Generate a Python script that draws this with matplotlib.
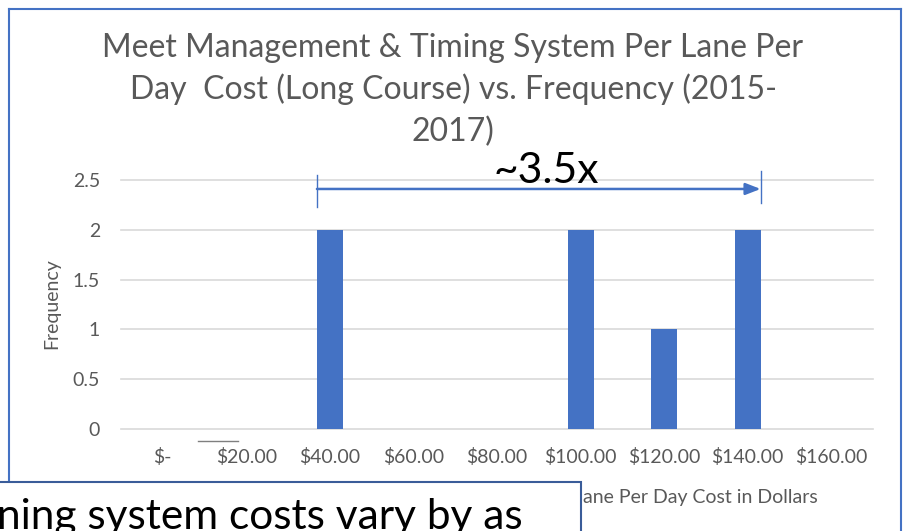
import matplotlib
matplotlib.use('Agg')
import matplotlib.pyplot as plt
from matplotlib.lines import Line2D
from matplotlib.patches import Rectangle

plt.rcParams['font.family'] = ['Lato', 'DejaVu Sans']

# data
categories = ['$-', '$20.00', '$40.00', '$60.00', '$80.00', '$100.00', '$120.00', '$140.00', '$160.00']
frequency = [0, 0, 2, 0, 0, 2, 1, 2, 0]
y_ticks = [0, 0.5, 1, 1.5, 2, 2.5]
y_tick_labels = ['0', '0.5', '1', '1.5', '2', '2.5']
title_lines = ['Meet Management & Timing System Per Lane Per',
               'Day  Cost (Long Course) vs. Frequency (2015-',
               '2017)']
ratio_label = '~3.5x'
x_label_visible = 'ane Per Day Cost in Dollars'
box_text = 'ning system costs vary by as'

BLUE = '#4472C4'
GRAY = '#595959'
W, H = 906, 531


def px(x, y):
    # pixel position (from top-left) -> figure fraction
    return x / W, 1 - y / H


fig = plt.figure(figsize=(W / 100, H / 100), dpi=100)
renderer = fig.canvas.get_renderer()


def fitted(text, target, size=10):
    # font size that makes text about target pixels wide
    t = fig.text(0, 0, text, fontsize=size)
    w = t.get_window_extent(renderer).width
    t.remove()
    return size * target / w


tick_size = fitted('$100.00', 72)
title_size = fitted(title_lines[0], 700)
big_size = fitted(ratio_label, 105)
box_size = fitted(box_text, 525)

ax = fig.add_axes([121 / W, 1 - 429 / H, (873 - 121) / W, (429 - 180) / H])
pos = list(range(len(categories)))
bar_w = 0.31
ax.bar(pos, frequency, width=bar_w, color=BLUE, zorder=3)
ax.set_xlim(-0.5, len(categories) - 0.5)
ax.set_ylim(0, 2.5)
ax.set_xticks(pos, categories)
ax.set_yticks(y_ticks, y_tick_labels)
ax.grid(axis='y', color='#D9D9D9', lw=1.2, zorder=0)
for gl in ax.get_ygridlines():
    gl.set_clip_on(False)
for s in ax.spines.values():
    s.set_visible(False)
ax.tick_params(length=0, colors=GRAY, labelsize=tick_size)
ax.tick_params(axis='y', pad=15)
ax.tick_params(axis='x', pad=14)

# span arrow from the $40 bar to the $140 bar
left = categories.index('$40.00') - bar_w / 2
right = categories.index('$140.00') + bar_w / 2
ax.annotate('', xy=(right, 2.41), xytext=(left, 2.41),
            arrowprops=dict(arrowstyle='-|>,head_length=0.9,head_width=0.35', color=BLUE,
                            lw=1.8, shrinkA=0, shrinkB=0),
            annotation_clip=False)
ax.plot([left, left], [2.23, 2.55], color=BLUE, lw=1, clip_on=False)
ax.plot([right, right], [2.27, 2.59], color=BLUE, lw=1, clip_on=False)
fig.text(*px(546, 183), ratio_label, ha='center', va='baseline', fontsize=big_size, color='black')

# titles and axis labels
for line, base in zip(title_lines, [57, 99, 141]):
    fig.text(*px(453, base), line, ha='center', va='baseline', fontsize=title_size, color=GRAY)
fig.text(*px(52, 304), 'Frequency', rotation=90, ha='center', va='center', fontsize=tick_size, color=GRAY)
fig.text(*px(583, 498), x_label_visible, ha='left', va='center', fontsize=tick_size, color=GRAY)

# stray line under $20.00
fig.add_artist(Line2D([198 / W, 238 / W], [1 - 441 / H] * 2, color='#7F7F7F', lw=1))

# chart frame
fig.add_artist(Line2D([9 / W, 901 / W], [1 - 9 / H] * 2, color=BLUE, lw=1.5))
fig.add_artist(Line2D([9 / W] * 2, [1 - 9 / H, 1 - 482 / H], color=BLUE, lw=1.5))
fig.add_artist(Line2D([901 / W] * 2, [1 - 9 / H, 0], color=BLUE, lw=1.5))

# overlapping text box
fig.add_artist(Rectangle((-2 / W, 1 - 540 / H), 583 / W, 58 / H, transform=fig.transFigure,
                         facecolor='white', edgecolor='#3A5C99', lw=1.5, zorder=5))
fig.text(*px(-3, 529), box_text, ha='left', va='baseline', fontsize=box_size, color='black', zorder=6)

fig.savefig('out.png', dpi=100)
